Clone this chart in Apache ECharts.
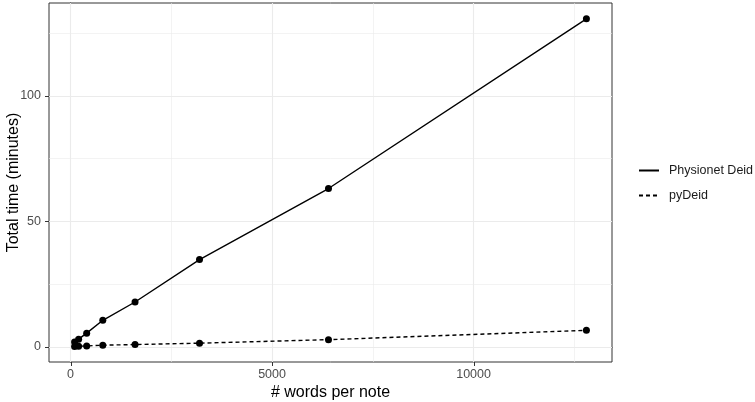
<!DOCTYPE html>
<html>
<head>
<meta charset="utf-8">
<script src="https://cdn.jsdelivr.net/npm/echarts@6/dist/echarts.min.js"></script>
<style>
  html, body { margin: 0; padding: 0; background: #fff; }
  #main { width: 755px; height: 402px; }
</style>
</head>
<body>
<div id="main"></div>
<script>
// 数据
const wordsPerNote = [100, 200, 400, 800, 1600, 3200, 6400, 12800];
const physionetTime = [2.0, 3.1, 5.5, 10.6, 17.9, 34.8, 63.1, 130.7];
const pyDeidTime = [0.2, 0.3, 0.4, 0.7, 0.95, 1.5, 2.9, 6.6];
const xMajorTicks = [0, 5000, 10000];
const xMinorTicks = [2500, 7500, 12500];
const yMajorTicks = [0, 50, 100];
const yMinorTicks = [25, 75, 125];

const pairs = (xs, ys) => xs.map((x, i) => [x, ys[i]]);

const font = "Liberation Sans, Arial, sans-serif";
const gridColor = "#ebebeb";

// 网格线 (ggplot 风格)
const gridLines = [
  ...xMajorTicks.map((v) => ({ xAxis: v, lineStyle: { width: 1.1 } })),
  ...xMinorTicks.map((v) => ({ xAxis: v, lineStyle: { width: 0.6 } })),
  ...yMajorTicks.map((v) => ({ yAxis: v, lineStyle: { width: 1.1 } })),
  ...yMinorTicks.map((v) => ({ yAxis: v, lineStyle: { width: 0.6 } })),
];

const myChart = echarts.init(document.getElementById("main"));
const option = {
  animation: false,
  textStyle: { fontFamily: font },
  grid: {
    left: 49,
    top: 3,
    right: 143,
    bottom: 40,
    outerBoundsMode: "none",
    containLabel: false,
    show: true,
    borderColor: "#333",
    borderWidth: 1,
    backgroundColor: "#fff",
  },
  legend: {
    orient: "vertical",
    left: 638,
    top: 164,
    padding: 0,
    itemWidth: 20,
    itemHeight: 14,
    itemGap: 12,
    textStyle: {
      color: "#1a1a1a",
      fontSize: 12.5,
      fontFamily: font,
      padding: [0, 0, 0, 5],
    },
    itemStyle: { opacity: 0 },
    data: ["Physionet Deid", "pyDeid"],
  },
  xAxis: {
    type: "value",
    min: -535,
    max: 13435,
    name: "# words per note",
    nameLocation: "middle",
    nameGap: 23,
    nameMoveOverlap: false,
    nameTextStyle: { color: "#000", fontSize: 16, fontFamily: font },
    axisLine: { show: true, lineStyle: { color: "#333", width: 1 } },
    axisTick: { show: false },
    axisLabel: {
      customValues: xMajorTicks,
      formatter: (v) => String(v),
      color: "#4d4d4d",
      fontSize: 12.5,
      margin: 6,
    },
    splitLine: { show: false },
  },
  yAxis: {
    type: "value",
    min: -6,
    max: 137,
    name: "Total time (minutes)",
    nameLocation: "middle",
    nameGap: 27,
    nameMoveOverlap: false,
    nameTextStyle: { color: "#000", fontSize: 16, fontFamily: font },
    axisLine: { show: true, lineStyle: { color: "#333", width: 1 } },
    axisTick: { show: false },
    axisLabel: {
      customValues: yMajorTicks,
      formatter: (v) => String(v),
      color: "#4d4d4d",
      fontSize: 12.5,
      margin: 8,
    },
    splitLine: { show: false },
  },
  series: [
    {
      // 只用来画网格线
      type: "line",
      data: [],
      z: 1,
      silent: true,
      markLine: {
        z: 1,
        silent: true,
        symbol: "none",
        label: { show: false },
        animation: false,
        lineStyle: { color: gridColor, type: "solid" },
        data: gridLines,
      },
    },
    {
      name: "Physionet Deid",
      type: "line",
      z: 3,
      data: pairs(wordsPerNote, physionetTime),
      symbol: "circle",
      symbolSize: 7,
      itemStyle: { color: "#000" },
      lineStyle: { color: "#000", width: 1.4 },
    },
    {
      name: "pyDeid",
      type: "line",
      z: 3,
      data: pairs(wordsPerNote, pyDeidTime),
      symbol: "circle",
      symbolSize: 7,
      itemStyle: { color: "#000" },
      lineStyle: { color: "#000", width: 1.4, type: [4, 3] },
    },
  ],
};
myChart.setOption(option);

/* 刻度线: 用坐标轴换算位置 */
function drawTicks() {
  const tickLen = 4;
  const tickStyle = { stroke: "#333", lineWidth: 1 };
  const x0 = myChart.convertToPixel({ xAxisIndex: 0 }, -535);
  const y0 = myChart.convertToPixel({ yAxisIndex: 0 }, -6);
  const elements = [];
  xMajorTicks.forEach((v) => {
    const px = Math.round(myChart.convertToPixel({ xAxisIndex: 0 }, v)) + 0.5;
    elements.push({
      type: "line",
      silent: true,
      shape: { x1: px, y1: y0, x2: px, y2: y0 + tickLen },
      style: tickStyle,
    });
  });
  yMajorTicks.forEach((v) => {
    const py = Math.round(myChart.convertToPixel({ yAxisIndex: 0 }, v)) + 0.5;
    elements.push({
      type: "line",
      silent: true,
      shape: { x1: x0 - tickLen, y1: py, x2: x0, y2: py },
      style: tickStyle,
    });
  });
  myChart.setOption({ graphic: elements });
}
drawTicks();

window.addEventListener("resize", () => {
  myChart.resize();
  drawTicks();
});
</script>
</body>
</html>
